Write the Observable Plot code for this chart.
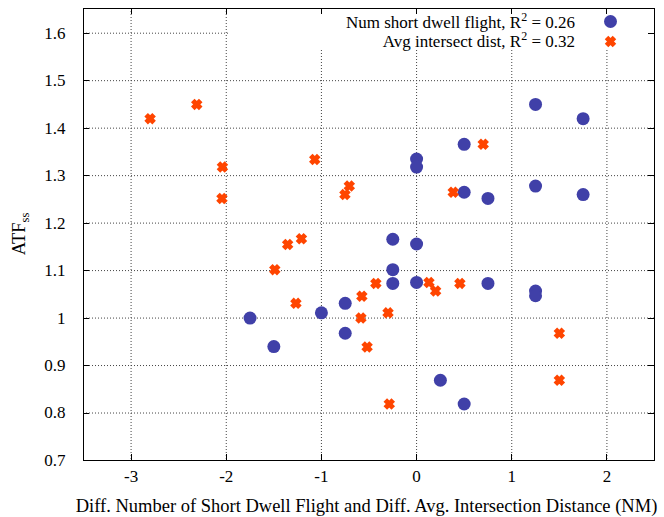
<!DOCTYPE html>
<html>
<head>
<meta charset="utf-8">
<script src="https://cdn.jsdelivr.net/npm/d3@7"></script>
<script src="https://cdn.jsdelivr.net/npm/@observablehq/plot@0.6"></script>
<style>
  html, body { margin: 0; padding: 0; background: white; }
</style>
</head>
<body>
<div id="chart"></div>
<script>
// ATF_ss values (shared y of both series)
const atfNumShort = [1.45, 1.42, 1.366, 1.335, 1.318, 1.278, 1.265, 1.26, 1.252, 1.166, 1.156, 1.102, 1.075, 1.073, 1.073, 1.057, 1.047, 1.031, 1.011, 1.0, 0.968, 0.94, 0.869, 0.819];
const diffNumShort = [1.25, 1.75, 0.5, 0, 0, 1.25, 0.5, 1.75, 0.75, -0.25, 0, -0.25, 0, -0.25, 0.75, 1.25, 1.25, -0.75, -1.0, -1.75, -0.75, -1.5, 0.25, 0.5];
const atfAvgDist = [1.45, 1.42, 1.366, 1.334, 1.318, 1.278, 1.265, 1.26, 1.252, 1.167, 1.155, 1.102, 1.075, 1.073, 1.073, 1.057, 1.046, 1.031, 1.011, 1.0, 0.968, 0.939, 0.869, 0.819];
const diffAvgDist = [-2.31, -2.8, 0.70, -1.07, -2.04, -0.707, 0.385, -0.753, -2.045, -1.21, -1.355, -1.49, 0.13, -0.428, 0.455, 0.2, -0.575, -1.268, -0.30, -0.585, 1.5, -0.52, 1.5, -0.287];

const seriesNames = ["Num short dwell flight, R", "Avg intersect dist, R"];
const seriesR2 = ["0.26", "0.32"];
const xTicks = [-3, -2, -1, 0, 1, 2];
const yTicks = [0.7, 0.8, 0.9, 1.0, 1.1, 1.2, 1.3, 1.4, 1.5, 1.6];
const xTickLabels = ["-3", "-2", "-1", "0", "1", "2"];
const yTickLabels = ["0.7", "0.8", "0.9", "1", "1.1", "1.2", "1.3", "1.4", "1.5", "1.6"];
const xLabel = "Diff. Number of Short Dwell Flight and Diff. Avg. Intersection Distance (NM)";
const yLabelMain = "ATF";
const yLabelSub = "ss";

const blue = "#4040a8";
const orange = "#ff4500";
const font = "Liberation Serif";

const numShort = diffNumShort.map((d, i) => ({x: d, y: atfNumShort[i]}));
const avgDist = diffAvgDist.map((d, i) => ({x: d, y: atfAvgDist[i]}));
const xTickData = xTicks.map((v, i) => ({v, label: xTickLabels[i]}));
const yTickData = yTicks.map((v, i) => ({v, label: yTickLabels[i]}));

// white key box behind legend
function keyBox(index, scales, values, dim) {
  const g = d3.create("svg:g");
  const right = dim.width - dim.marginRight;
  g.append("rect")
    .attr("x", right - 424).attr("y", dim.marginTop)
    .attr("width", 424).attr("height", 41)
    .attr("fill", "white");
  return g.node();
}

// inward ticks on all four sides (mirrored)
function innerTicks(index, scales, values, dim) {
  const g = d3.create("svg:g").attr("stroke", "black").attr("stroke-width", 1);
  const L = dim.marginLeft, R = dim.width - dim.marginRight;
  const T = dim.marginTop, B = dim.height - dim.marginBottom;
  const len = 6;
  for (const t of xTicks) {
    const x = Math.round(scales.x(t)) + 0.5;
    g.append("line").attr("x1", x).attr("x2", x).attr("y1", B).attr("y2", B - len);
    g.append("line").attr("x1", x).attr("x2", x).attr("y1", T).attr("y2", T + len);
  }
  for (const t of yTicks) {
    const y = Math.round(scales.y(t)) + 0.5;
    g.append("line").attr("y1", y).attr("y2", y).attr("x1", L).attr("x2", L + len);
    g.append("line").attr("y1", y).attr("y2", y).attr("x1", R).attr("x2", R - len);
  }
  return g.node();
}

// legend text with superscript, and axis titles
function texts(index, scales, values, dim) {
  const g = d3.create("svg:g").attr("fill", "black").attr("font-family", font);
  const R = dim.width - dim.marginRight;
  const baselines = [28, 46.5];
  seriesNames.forEach((name, i) => {
    const t = g.append("text")
      .attr("x", R - 79).attr("y", baselines[i])
      .attr("text-anchor", "end").attr("font-size", 17);
    t.append("tspan").text(name);
    t.append("tspan").attr("dy", -7).attr("font-size", 12).text("2");
    t.append("tspan").attr("dy", 7).text(" = " + seriesR2[i]);
  });
  const L = dim.marginLeft, B = dim.height - dim.marginBottom;
  g.append("text")
    .attr("x", (L + R) / 2 - 2).attr("y", B + 52)
    .attr("text-anchor", "middle").attr("font-size", 18.5)
    .text(xLabel);
  const cy = (dim.marginTop + B) / 2;
  const yl = g.append("text")
    .attr("transform", `translate(25,${cy}) rotate(-90)`)
    .attr("text-anchor", "middle").attr("font-size", 18.5);
  yl.append("tspan").text(yLabelMain);
  yl.append("tspan").attr("dy", 4).attr("font-size", 12.5).text(yLabelSub);
  return g.node();
}

const chart = Plot.plot({
  width: 664,
  height: 517,
  marginLeft: 83,
  marginRight: 10,
  marginTop: 8,
  marginBottom: 57,
  style: {background: "white", color: "black"},
  x: {domain: [-3.5, 2.5], axis: null},
  y: {domain: [0.7, 1.652], axis: null},
  marks: [
    Plot.gridX(xTicks, {stroke: "#444", strokeOpacity: 1, strokeDasharray: "1,2"}),
    Plot.gridY(yTicks.slice(1), {stroke: "#444", strokeOpacity: 1, strokeDasharray: "1,2"}),
    keyBox,
    Plot.dot(numShort, {x: "x", y: "y", r: 6.5, fill: blue}),
    Plot.dot(avgDist, {x: "x", y: "y", symbol: "times", r: 3.7, stroke: orange, strokeWidth: 5}),
    Plot.frame({stroke: "black", strokeWidth: 1}),
    innerTicks,
    Plot.text(xTickData, {x: "v", text: "label", frameAnchor: "bottom", dy: 21, fontFamily: font, fontSize: 17, fill: "black"}),
    Plot.text(yTickData, {y: "v", text: "label", frameAnchor: "left", dx: -18, textAnchor: "end", fontFamily: font, fontSize: 17, fill: "black"}),
    Plot.dot([seriesNames[0]], {frameAnchor: "top-right", dx: -44, dy: 13, r: 6.5, fill: blue}),
    Plot.dot([seriesNames[1]], {frameAnchor: "top-right", dx: -44, dy: 33, symbol: "times", r: 3.7, stroke: orange, strokeWidth: 5}),
    texts
  ]
});
document.getElementById("chart").appendChild(chart);
</script>
</body>
</html>
